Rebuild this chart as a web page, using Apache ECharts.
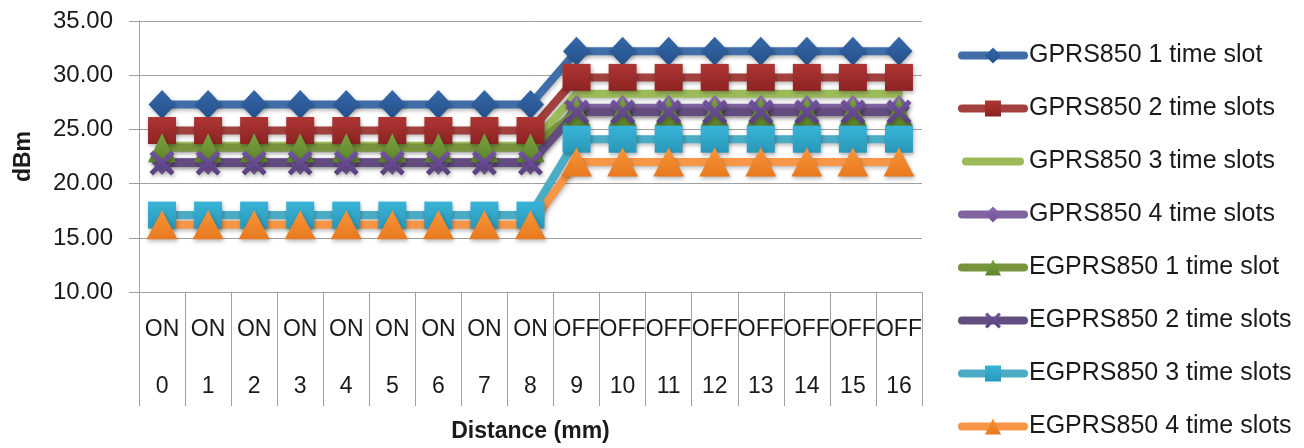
<!DOCTYPE html>
<html>
<head>
<meta charset="utf-8">
<style>
  html, body { margin: 0; padding: 0; background: #ffffff; }
  #chart { width: 1304px; height: 448px; }
</style>
<script src="https://cdn.jsdelivr.net/npm/echarts@6/dist/echarts.min.js"></script>
</head>
<body>
<div id="chart"></div>
<script>
// Category labels: relay state above, distance below
const distances = ['0','1','2','3','4','5','6','7','8','9','10','11','12','13','14','15','16'];
const states = ['ON','ON','ON','ON','ON','ON','ON','ON','ON','OFF','OFF','OFF','OFF','OFF','OFF','OFF','OFF'];

// Measured output power (dBm)
const gprs1 = [27.3,27.3,27.3,27.3,27.3,27.3,27.3,27.3,27.3,32.2,32.2,32.2,32.2,32.2,32.2,32.2,32.2];
const gprs2 = [24.9,24.9,24.9,24.9,24.9,24.9,24.9,24.9,24.9,29.8,29.8,29.8,29.8,29.8,29.8,29.8,29.8];
const gprs3 = [23.5,23.5,23.5,23.5,23.5,23.5,23.5,23.5,23.5,28.3,28.3,28.3,28.3,28.3,28.3,28.3,28.3];
const gprs4 = [22.0,22.0,22.0,22.0,22.0,22.0,22.0,22.0,22.0,27.0,27.0,27.0,27.0,27.0,27.0,27.0,27.0];
const egprs1 = [23.3,23.3,23.3,23.3,23.3,23.3,23.3,23.3,23.3,26.6,26.6,26.6,26.6,26.6,26.6,26.6,26.6];
const egprs2 = [21.9,21.9,21.9,21.9,21.9,21.9,21.9,21.9,21.9,26.6,26.6,26.6,26.6,26.6,26.6,26.6,26.6];
const egprs3 = [17.1,17.1,17.1,17.1,17.1,17.1,17.1,17.1,17.1,24.1,24.1,24.1,24.1,24.1,24.1,24.1,24.1];
const egprs4 = [16.2,16.2,16.2,16.2,16.2,16.2,16.2,16.2,16.2,22.0,22.0,22.0,22.0,22.0,22.0,22.0,22.0];

const yTicks = { min: 10, max: 35, step: 5 };

const FONT = '"Liberation Sans", Arial, sans-serif';
const CROSS = 'path://M0,1.4 L1.4,0 L5,3.6 L8.6,0 L10,1.4 L6.4,5 L10,8.6 L8.6,10 L5,6.4 L1.4,10 L0,8.6 L3.6,5 Z';
// plain rounded bar used as the legend key of the marker-less series
const BAR_ICON = 'path://M4,6 L58,6 A4,4 0 0 1 58,14 L4,14 A4,4 0 0 1 4,6 Z M0,0 L0,0.01 Z M62,20 L62,19.99 Z';

function markerFill(top, bottom) {
  return new echarts.graphic.LinearGradient(0, 0, 0, 1, [
    { offset: 0, color: top }, { offset: 1, color: bottom }
  ]);
}

function lineSeries(name, data, lineColor, symbol, size, fillTop, fillBottom) {
  return {
    name: name,
    type: 'line',
    data: data,
    symbol: symbol,
    symbolSize: size,
    showSymbol: symbol !== 'none',
    animation: false,
    lineStyle: {
      color: lineColor, width: 8, cap: 'round', join: 'round',
      shadowColor: 'rgba(0,0,0,0.28)', shadowBlur: 4, shadowOffsetX: 1, shadowOffsetY: 2
    },
    itemStyle: {
      color: fillTop ? markerFill(fillTop, fillBottom) : lineColor,
      borderWidth: 0,
      shadowColor: 'rgba(0,0,0,0.3)', shadowBlur: 4, shadowOffsetX: 1, shadowOffsetY: 2
    },
    emphasis: { disabled: true }
  };
}

const chart = echarts.init(document.getElementById('chart'), null, { renderer: 'canvas' });

chart.setOption({
  backgroundColor: '#ffffff',
  animation: false,
  grid: { left: 139, right: 382, top: 21, bottom: 153, containLabel: false },
  legend: {
    orient: 'vertical',
    left: 958,
    top: 43,
    padding: 0,
    itemWidth: 62,
    itemHeight: 20,
    itemGap: 28,
    lineStyle: { width: 8, cap: 'round', shadowBlur: 0, shadowColor: 'transparent' },
    itemStyle: { shadowBlur: 0, shadowColor: 'transparent' },
    textStyle: { fontFamily: FONT, fontSize: 25, color: '#1a1a1a' },
    data: [
      'GPRS850 1 time slot','GPRS850 2 time slots',
      { name: 'GPRS850 3 time slots', icon: BAR_ICON },
      'GPRS850 4 time slots',
      'EGPRS850 1 time slot','EGPRS850 2 time slots','EGPRS850 3 time slots','EGPRS850 4 time slots'
    ]
  },
  xAxis: {
    type: 'category',
    data: distances,
    boundaryGap: true,
    name: 'Distance (mm)',
    nameLocation: 'middle',
    nameGap: 126,
    nameTextStyle: { fontFamily: FONT, fontSize: 23, fontWeight: 'bold', color: '#1a1a1a' },
    axisLine: { show: true, lineStyle: { color: '#a0a0a0', width: 1 } },
    axisTick: { show: true, length: 114, interval: 0, lineStyle: { color: '#a0a0a0', width: 1 } },
    axisLabel: {
      interval: 0,
      margin: 9,
      fontFamily: FONT,
      fontSize: 23,
      color: '#1a1a1a',
      lineHeight: 57,
      formatter: function (value, idx) { return states[idx] + '\n' + value; }
    },
    splitLine: { show: false }
  },
  yAxis: {
    type: 'value',
    min: yTicks.min,
    max: yTicks.max,
    interval: yTicks.step,
    name: 'dBm',
    nameLocation: 'middle',
    nameGap: 104,
    nameRotate: 90,
    nameTextStyle: { fontFamily: FONT, fontSize: 23, fontWeight: 'bold', color: '#1a1a1a' },
    axisLine: { show: true, lineStyle: { color: '#a0a0a0', width: 1 } },
    axisTick: { show: true, length: 10, lineStyle: { color: '#a0a0a0', width: 1 } },
    axisLabel: {
      margin: 26,
      fontFamily: FONT,
      fontSize: 24,
      color: '#1a1a1a',
      formatter: function (v) { return v.toFixed(2); }
    },
    splitLine: { show: true, lineStyle: { color: '#a0a0a0', width: 1 } }
  },
  series: [
    lineSeries('GPRS850 1 time slot', gprs1, '#3F6EA8', 'diamond', [27, 29], '#3567A8', '#24508A'),
    lineSeries('GPRS850 2 time slots', gprs2, '#A2403D', 'rect', [28, 27], '#AE3634', '#8C2322'),
    lineSeries('GPRS850 3 time slots', gprs3, '#9BBB59', 'none', 0),
    lineSeries('GPRS850 4 time slots', gprs4, '#8064A2', 'diamond', [22, 26], '#8A6BB0', '#6E5290'),
    lineSeries('EGPRS850 1 time slot', egprs1, '#77933C', 'triangle', [28, 29], '#7AA23F', '#5F842C'),
    lineSeries('EGPRS850 2 time slots', egprs2, '#634C7F', CROSS, [25, 25], '#7153A0', '#5A3F80'),
    lineSeries('EGPRS850 3 time slots', egprs3, '#4BACC6', 'rect', [28, 27], '#38B4D8', '#2A98B8'),
    lineSeries('EGPRS850 4 time slots', egprs4, '#F79646', 'triangle', [31, 29], '#F8963A', '#E8781E')
  ]
});
</script>
</body>
</html>
